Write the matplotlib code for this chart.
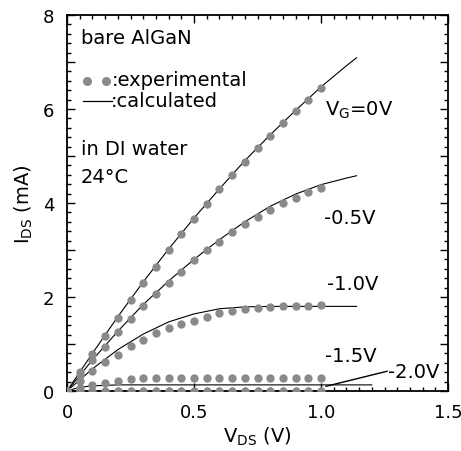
import matplotlib
matplotlib.use("Agg")
import matplotlib.pyplot as plt
from matplotlib.ticker import MultipleLocator, FuncFormatter

plt.rcParams['font.family'] = ['DejaVu Sans']
plt.rcParams['mathtext.fontset'] = 'dejavusans'

# experimental points
vds_exp = [0.0, 0.05, 0.1, 0.15, 0.2, 0.25, 0.3, 0.35, 0.4, 0.45, 0.5,
           0.55, 0.6, 0.65, 0.7, 0.75, 0.8, 0.85, 0.9, 0.95, 1.0]
exp_0 = [0.0, 0.40, 0.79, 1.18, 1.55, 1.93, 2.29, 2.63, 2.99, 3.33, 3.66,
         3.98, 4.30, 4.60, 4.88, 5.17, 5.43, 5.70, 5.96, 6.20, 6.44]
exp_05 = [0.0, 0.33, 0.65, 0.93, 1.25, 1.54, 1.81, 2.07, 2.30, 2.54, 2.78,
          2.99, 3.18, 3.38, 3.55, 3.71, 3.86, 3.99, 4.11, 4.23, 4.31]
exp_10 = [0.0, 0.21, 0.42, 0.61, 0.77, 0.95, 1.09, 1.23, 1.34, 1.43, 1.50,
          1.58, 1.66, 1.71, 1.74, 1.77, 1.79, 1.80, 1.80, 1.80, 1.82]
exp_15 = [0.0, 0.07, 0.13, 0.18, 0.22, 0.25, 0.27, 0.27, 0.28, 0.28, 0.28,
          0.28, 0.28, 0.28, 0.28, 0.28, 0.28, 0.28, 0.28, 0.28, 0.28]
exp_20 = [0.0] * 21

# calculated curves
vds_c0 = [0.0, 0.1, 0.2, 0.3, 0.4, 0.5, 0.6, 0.7, 0.8, 0.9, 1.0, 1.1, 1.14]
calc_0 = [0.0, 0.80, 1.58, 2.32, 3.02, 3.68, 4.30, 4.90, 5.45, 5.97, 6.47, 6.92, 7.09]
vds_c05 = [0.0, 0.1, 0.2, 0.3, 0.4, 0.5, 0.6, 0.7, 0.8, 0.9, 1.0, 1.1, 1.14]
calc_05 = [0.0, 0.66, 1.27, 1.84, 2.34, 2.80, 3.22, 3.60, 3.93, 4.19, 4.39, 4.53, 4.58]
vds_c10 = [0.0, 0.1, 0.2, 0.3, 0.4, 0.5, 0.6, 0.7, 0.8, 1.14]
calc_10 = [0.0, 0.47, 0.88, 1.21, 1.47, 1.64, 1.75, 1.79, 1.80, 1.80]
vds_c15 = [0.0, 0.05, 0.1, 0.2, 1.2]
calc_15 = [0.0, 0.08, 0.11, 0.13, 0.13]
vds_c20 = [0.0, 1.2]
calc_20 = [0.0, 0.0]

gate_labels = ["V$_\\mathregular{G}$=0V", "-0.5V", "-1.0V", "-1.5V", "-2.0V"]

fig = plt.figure(figsize=(4.61, 4.52), dpi=100)
ax = fig.add_axes([67/461, 1 - 392/452, (448-67)/461, (392-16)/452])

grey = '#8a8a8a'
for y in [exp_0, exp_05, exp_10, exp_15, exp_20]:
    ax.plot(vds_exp, y, 'o', color=grey, ms=6.0, mec='none', zorder=3)
for x, y in [(vds_c0, calc_0), (vds_c05, calc_05), (vds_c10, calc_10),
             (vds_c15, calc_15), (vds_c20, calc_20)]:
    ax.plot(x, y, '-', color='black', lw=0.8, zorder=2)

ax.set_xlim(0, 1.5)
ax.set_ylim(0, 8)
ax.xaxis.set_major_locator(MultipleLocator(0.5))
ax.xaxis.set_minor_locator(MultipleLocator(0.05))
ax.yaxis.set_major_locator(MultipleLocator(1))
ax.yaxis.set_minor_locator(MultipleLocator(0.2))
ax.xaxis.set_major_formatter(FuncFormatter(lambda v, p: '0' if abs(v) < 1e-9 else f'{v:.1f}'))
ax.yaxis.set_major_formatter(FuncFormatter(lambda v, p: f'{int(round(v))}' if int(round(v)) % 2 == 0 else ''))
ax.tick_params(which='both', direction='in', top=True, right=True, width=1.0)
ax.tick_params(which='major', length=6, labelsize=13)
ax.tick_params(axis='x', which='major', pad=9)
ax.tick_params(axis='y', which='major', pad=9)
ax.tick_params(which='minor', length=3)
for s in ax.spines.values():
    s.set_linewidth(1.3)

ax.set_xlabel("V$_\\mathregular{DS}$ (V)", fontsize=14, labelpad=2)
ax.set_ylabel("I$_\\mathregular{DS}$ (mA)", fontsize=14, labelpad=6)

fs = 14
ax.text(0.055, 7.53, "bare AlGaN", fontsize=fs, va='center')
ax.plot([0.078, 0.153], [6.6, 6.6], 'o', color=grey, ms=6.5, mec='none', clip_on=False)
ax.text(0.175, 6.62, ":experimental", fontsize=fs, va='center')
ax.plot([0.063, 0.178], [6.17, 6.17], '-', color='black', lw=0.9)
ax.text(0.172, 6.19, ":calculated", fontsize=fs, va='center')
ax.text(0.055, 5.15, "in DI water", fontsize=fs, va='center')
ax.text(0.055, 4.57, "24°C", fontsize=fs, va='center')

ax.text(1.015, 6.0, gate_labels[0], fontsize=fs, va='center')
ax.text(1.01, 3.70, gate_labels[1], fontsize=fs, va='center')
ax.text(1.025, 2.28, gate_labels[2], fontsize=fs, va='center')
ax.text(1.015, 0.75, gate_labels[3], fontsize=fs, va='center')
ax.text(1.265, 0.41, gate_labels[4], fontsize=fs, va='center')
ax.plot([1.02, 1.26], [0.10, 0.42], '-', color='black', lw=1.0)

fig.savefig("out.png", dpi=100)
